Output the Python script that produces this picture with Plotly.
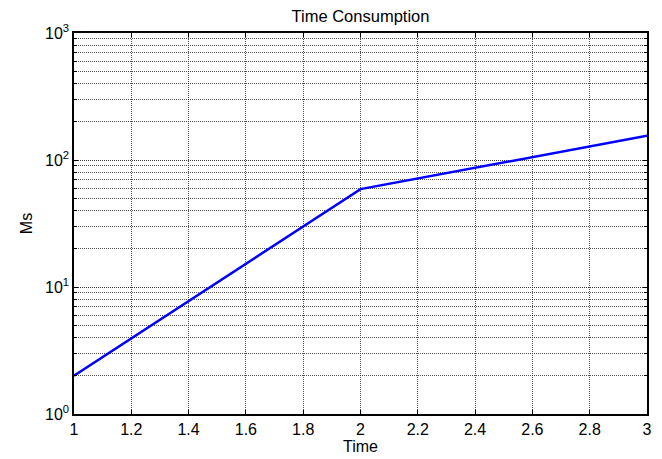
import plotly.graph_objects as go

time = [1, 2, 3]
ms = [2, 59, 155]
y_tickvals = [1, 10, 100, 1000]
y_ticktext = ["10<sup>0</sup>", "10<sup>1</sup>", "10<sup>2</sup>", "10<sup>3</sup>"]
x_tickvals = [1, 1.2, 1.4, 1.6, 1.8, 2, 2.2, 2.4, 2.6, 2.8, 3]
x_ticktext = ["1", "1.2", "1.4", "1.6", "1.8", "2", "2.2", "2.4", "2.6", "2.8", "3"]

font = "Liberation Sans, Arial, sans-serif"
grid_col = "rgba(50,50,50,0.85)"

fig = go.Figure()
fig.add_trace(go.Scatter(x=time, y=ms, mode="lines",
                         line=dict(color="#0000ff", width=2.5), showlegend=False))

fig.update_layout(
    width=662, height=459,
    margin=dict(l=74, r=15, t=33, b=45),
    paper_bgcolor="white", plot_bgcolor="white",
    font=dict(family=font, size=16, color="black"),
    title=dict(text="Time Consumption", x=0.5, xref="paper", xanchor="center",
               y=1 - 16 / 459, yref="container", yanchor="middle", font=dict(size=16.5)),
)
fig.update_xaxes(
    range=[1, 3], tickvals=x_tickvals, ticktext=x_ticktext, automargin=False,
    showline=True, linecolor="black", linewidth=1.5, mirror="ticks",
    ticks="inside", ticklen=4, tickcolor="black",
    showgrid=True, gridcolor=grid_col, griddash="1px,1px", gridwidth=1,
    zeroline=False,
    title=dict(text="Time", font=dict(size=16), standoff=4),
)
fig.update_yaxes(
    type="log", range=[0, 3], tickvals=y_tickvals, ticktext=y_ticktext, automargin=False,
    showline=True, linecolor="black", linewidth=1.5, mirror="ticks",
    ticks="inside", ticklen=4, tickcolor="black",
    showgrid=True, gridcolor=grid_col, griddash="1px,1px", gridwidth=1,
    minor=dict(dtick="D1", showgrid=True, gridcolor=grid_col, griddash="1px,1px",
               ticks="inside", ticklen=3, tickcolor="black"),
    zeroline=False,
    title=dict(text="Ms", font=dict(size=16), standoff=8),
)

fig.write_html("out.html")
